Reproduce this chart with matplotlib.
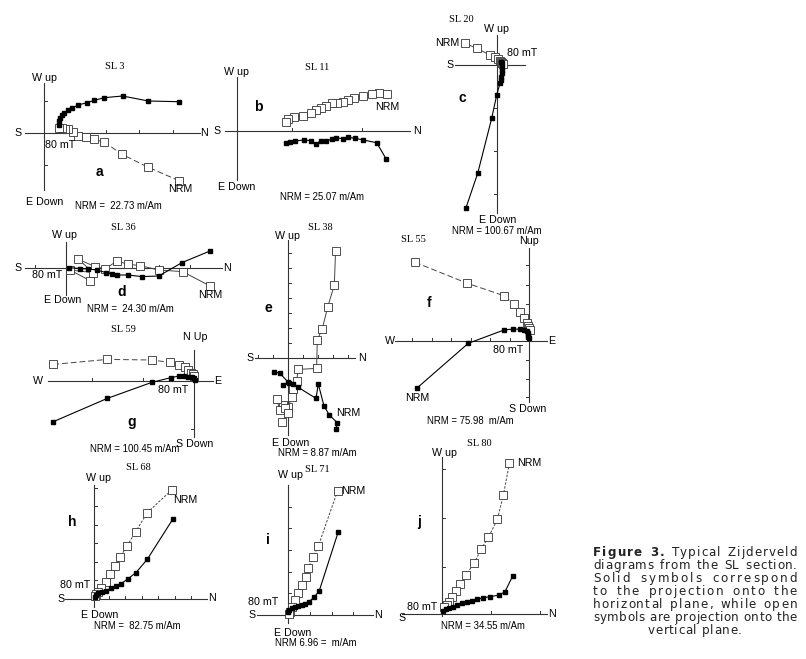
import matplotlib
matplotlib.use("Agg")
import matplotlib.pyplot as plt
from matplotlib import font_manager

W, H = 806, 659
SANS = "Liberation Sans"
SERIF = "Liberation Serif"

# SL 3 (a) - projections, arbitrary units
a_solid_x = [134.7, 104, 78.3, 59.7, 50, 42.3, 34, 27.7, 23.7, 19.7, 17.3, 15.7, 14.3, 14.3]
a_solid_y = [31, 31.7, 36.7, 35, 32.3, 30, 27.7, 24.7, 22.3, 19.3, 17.7, 15, 12, 8]
a_open_x = [134.7, 103.3, 78, 59.7, 49.7, 41.7, 34, 28.3, 23.7, 20.3, 17.3, 14.7]
a_open_y = [-48, -34.3, -21.7, -9.3, -6.7, -4.7, -3.3, 1, 3.3, 3.7, 4.3, 5]

# SL 11 (b)
b_solid_x = [149.3, 140, 126.7, 118.3, 111.7, 106, 99.3, 95, 89.3, 84, 79.3, 74, 67.3, 58.3, 53.3, 49.3]
b_solid_y = [-27.7, -11.7, -9, -7.3, -6.3, -7.7, -6.7, -8.3, -10, -9.7, -13, -9.7, -9, -10, -11.3, -12.3]
b_open_x = [150, 142.7, 135, 126.7, 117.3, 111.7, 106, 100, 95, 89.3, 84, 79.3, 74, 66, 57.3, 51.7, 49]
b_open_y = [36.7, 37.7, 36.7, 35, 33.3, 31, 29, 28.3, 27.7, 25, 22.7, 21, 18.3, 15, 14.3, 12, 9.3]

# SL 20 (c)
c_solid_x = [-30.7, -19, -5, 0, 3.3, 4, 4.7, 5, 5.3, 5.3, 5, 4.7]
c_solid_y = [-142.7, -108.3, -53.3, -30, -18.3, -15, -11.7, -8.3, -5, -1.7, 1.7, 3.5]
c_open_x = [-31.7, -20, -6.7, -1.7, 1.7, 3.3, 4.3, 5, 6]
c_open_y = [21.7, 16.7, 10, 7.7, 5.7, 4, 3, 2.3, 1]

# SL 36 (d)
d_solid_x = [144, 116, 92.7, 75.7, 62.3, 50.7, 45.7, 40, 30.7, 22.3, 14, 3.3]
d_solid_y = [17.3, 5.7, -7.7, -8.3, -6.7, -6.7, -6, -4.3, -1.7, -0.7, -0.3, 0.7]
d_open_x = [144, 116.7, 92.7, 74, 62.3, 50.7, 39.3, 29, 12.3, 27.3, 4, 24]
d_open_y = [-17.7, -3.3, -1.7, 2.7, 4, 7.3, -0.7, 1.7, 9, -4.3, -1.7, -12.3]

# SL 38 (e)
e_solid_x = [47.7, 49, 41, 35.7, 30, 27.7, 10, 4.3, 0, -5, 1, -8.3, -14]
e_solid_y = [-71.7, -65, -57.3, -48.3, -26.3, -40.7, -29.7, -26.3, -24, -27.7, -25.7, -15.7, -14]
e_open_x = [47.3, 46, 39.3, 34, 29, 28.3, 10, 8.3, 5, 3.3, 0, -5, -11.7, -8.3, -3.3, 0, -6.7]
e_open_y = [107, 72.7, 50.3, 29, 17.7, -10.7, -11.7, -23, -31.7, -39.7, -49, -47.3, -41.7, -52.3, -50.7, -55.7, -64]

# SL 55 (f)
f_solid_x = [-112.3, -60.7, -25, -15.7, -9, -5, -2.3, -1.3, -0.7, -0.7, 0]
f_solid_y = [-47.3, -2.3, 11, 12, 11.7, 11, 10, 7.7, 6, 3.7, 2.7]
f_open_x = [-114, -61.7, -25, -15, -9, -5, -2.3, -0.7, 0, 1]
f_open_y = [78.7, 57.7, 45.3, 36.7, 29.3, 23.3, 18.3, 15, 12.7, 11]

# SL 59 (g)
g_solid_x = [-140.7, -86.7, -42.3, -23.3, -14.7, -10, -5.7, -2.3, 0, 1]
g_solid_y = [-41, -17.7, -1.7, 3, 4.7, 4.7, 4, 3.3, 2.3, 0.7]
g_open_x = [-140.7, -86.7, -42.3, -24, -14.7, -9, -5.7, -3.3, -1.3, 0]
g_open_y = [16.3, 21.3, 20.7, 18.3, 15.7, 13.3, 10.7, 8, 6.3, 4.7]

# SL 68 (h)
h_solid_x = [78.7, 53.3, 42, 33.7, 26.7, 22, 16.7, 12, 7.7, 4.3, 2, 1]
h_solid_y = [80, 40, 26.7, 20.3, 15.3, 13.7, 11, 8.3, 7, 6, 4.3, 2.7]
h_open_x = [77.7, 53.3, 41.7, 33.3, 26, 21.3, 16, 11.7, 7, 4.3, 2, 1]
h_open_y = [109.3, 86.7, 67.7, 53.7, 42, 33.3, 25.3, 17.3, 11.7, 7.7, 5, 3.3]

# SL 71 (i)
i_solid_x = [50, 31, 25.7, 20.7, 16.7, 13.3, 10, 6.7, 3.3, 1, -0.7]
i_solid_y = [83.3, 24.3, 17.7, 13.3, 11, 10, 9, 8.3, 6.7, 5, 3.3]
i_open_x = [49.3, 30, 25, 20, 17.3, 13.3, 10, 6.7, 3.3, 1.7, 1]
i_open_y = [124.3, 69, 58.3, 46.7, 38.3, 30, 22.3, 15, 8.3, 3.3, 1]

# SL 80 (j)
j_solid_x = [71, 63.3, 57.7, 48.3, 41.7, 35.7, 30.7, 25, 20, 15, 11, 7.7, 4.3, 1.7]
j_solid_y = [38, 22.3, 19, 17.3, 16.3, 14.7, 13.3, 12.3, 10.7, 9, 7.3, 5.7, 4.7, 3.3]
j_open_x = [67.7, 61.7, 55.7, 46.7, 39.3, 32.7, 24.3, 18.3, 14.3, 10.7, 7.7, 5, 2.7]
j_open_y = [150.7, 119, 94.7, 76.7, 64.7, 51.3, 39, 29.7, 23.3, 17.3, 12.3, 9, 6.7]

fig = plt.figure(figsize=(W / 100, H / 100), dpi=100)

dashed = (0, (6, 3))
dotted = (0, (2.5, 1.5))

panels = [
    dict(o=(44.3, 132.7), sx=a_solid_x, sy=a_solid_y, ox=a_open_x, oy=a_open_y, ls=dashed,
         hx=(-19, 156), vy=(50, -57), xt=[28, 62, 95, 129], yt=[32, -32], xtd=1, ytd=1,
         labels=[("S", -26, 0), ("N", 160, 0), ("W up", 0, 55), ("E Down", 0, -69),
                 ("80 mT", 16, -12), ("NRM", 136, -56)],
         sl=("SL 3", 70, 66), let=("a", 55, -39), nrm=("NRM =  22.73 m/Am", 74, -73)),
    dict(o=(236.7, 131), sx=b_solid_x, sy=b_solid_y, ox=b_open_x, oy=b_open_y, ls="-",
         hx=(-12, 173), vy=(54, -49), xt=[55, 125], yt=[], xtd=1, ytd=1,
         labels=[("S", -20, 0), ("N", 180, 0), ("W up", 0, 59), ("E Down", 0, -56),
                 ("NRM", 151, 24)],
         sl=("SL 11", 80, 64), let=("b", 22, 24), nrm=("NRM = 25.07 m/Am", 85, -66)),
    dict(o=(496.7, 65), sx=c_solid_x, sy=c_solid_y, ox=c_open_x, oy=c_open_y, ls="-",
         hx=(-42, 28), vy=(30, -148), xt=[], yt=[-43, -86, -129], xtd=1, ytd=-1,
         labels=[("S", -47, 0), ("W up", 0, 36), ("E Down", 1, -155),
                 ("80 mT", 25, 12), ("NRM", -49, 22)],
         sl=("SL 20", -35, 45), let=("c", -34, -33), nrm=("NRM = 100.67 m/Am", 0, -166)),
    dict(o=(66, 268.3), sx=d_solid_x, sy=d_solid_y, ox=d_open_x, oy=d_open_y, ls="-",
         hx=(-41, 156), vy=(26, -27), xt=[-31, 31, 62, 93, 124], yt=[], xtd=1, ytd=1,
         labels=[("S", -48, 0), ("N", 161, 0), ("W up", -1, 33), ("E Down", -3, -32),
                 ("80 mT", -19, -7), ("NRM", 144, -27)],
         sl=("SL 36", 57, 41), let=("d", 56, -24), nrm=("NRM =  24.30 m/Am", 64, -41)),
    dict(o=(288.3, 357.7), sx=e_solid_x, sy=e_solid_y, ox=e_open_x, oy=e_open_y, ls="-",
         hx=(-33, 67), vy=(118, -77), xt=[-30, -15, 15, 30, 45, 60],
         yt=[15, 30, 45, 60, 75, 90, 105], xtd=1, ytd=1,
         labels=[("S", -38, 0), ("N", 74, 0), ("W up", -1, 122), ("E Down", 2, -85),
                 ("NRM", 60, -55)],
         sl=("SL 38", 32, 130), let=("e", -20, 50), nrm=("NRM = 8.87 m/Am", 29, -95)),
    dict(o=(529, 341), sx=f_solid_x, sy=f_solid_y, ox=f_open_x, oy=f_open_y, ls=dashed,
         hx=(-134, 18), vy=(93, -61), xt=[-117, -97.5, -78, -58.5, -39, -19.5],
         yt=[76, 56, 37.5, 19, -19, -37.5, -56], xtd=1, ytd=-1,
         labels=[("W", -139, 0), ("E", 23, 0), ("Nup", 0, 100), ("S Down", -1, -68),
                 ("80 mT", -21, -9), ("NRM", -112, -57)],
         sl=("SL 55", -116, 101), let=("f", -100, 38), nrm=("NRM = 75.98  m/Am", -59, -80)),
    dict(o=(194, 380.7), sx=g_solid_x, sy=g_solid_y, ox=g_open_x, oy=g_open_y, ls=dashed,
         hx=(-146, 19), vy=(31, -56), xt=[-102, -51], yt=[-48], xtd=1, ytd=-1,
         labels=[("W", -156, 0), ("E", 24, 0), ("N Up", 1, 44), ("S Down", 1, -63),
                 ("80 mT", -21, -9)],
         sl=("SL 59", -71, 51), let=("g", -62, -41), nrm=("NRM = 100.45 m/Am", -59, -68)),
    dict(o=(94, 599.3), sx=h_solid_x, sy=h_solid_y, ox=h_open_x, oy=h_open_y, ls=dotted,
         hx=(-29, 113), vy=(114, -8), xt=[14.5, 31, 47.5, 64, 80.5, 97],
         yt=[19, 37.5, 56, 74.5, 93, 111.5], xtd=1, ytd=1,
         labels=[("S", -33, 0), ("N", 118, 1), ("W up", 4, 121), ("E Down", 6, -16),
                 ("80 mT", -19, 14), ("NRM", 91, 99)],
         sl=("SL 68", 44, 132), let=("h", -22, 77), nrm=("NRM =  82.75 m/Am", 43, -27)),
    dict(o=(288.3, 615), sx=i_solid_x, sy=i_solid_y, ox=i_open_x, oy=i_open_y, ls=dotted,
         hx=(-31, 85), vy=(130, -8), xt=[21.7, 43.3, 65], yt=[21.7, 43.3, 65, 86.7, 108],
         xtd=1, ytd=1,
         labels=[("S", -36, 0), ("N", 90, 0), ("W up", 2, 140), ("E Down", 4, -18),
                 ("80 mT", -25, 13), ("NRM", 65, 124)],
         sl=("SL 71", 29, 145), let=("i", -20, 75), nrm=("NRM 6.96 =  m/Am", 27, -28)),
    dict(o=(441.7, 614), sx=j_solid_x, sy=j_solid_y, ox=j_open_x, oy=j_open_y, ls=dotted,
         hx=(-40, 105), vy=(157, -2), xt=[49, 98], yt=[47.5, 96, 145.5], xtd=1, ytd=1,
         labels=[("S", -40, -4), ("N", 110, 0), ("W up", 3, 161),
                 ("80 mT", -20, 7), ("NRM", 88, 151)],
         sl=("SL 80", 38, 171), let=("j", -23, 92), nrm=("NRM = 34.55 m/Am", 41, -12)),
]

for p in panels:
    px, py = p["o"]
    ax = fig.add_axes([0, 0, 1, 1])
    ax.set_xlim(-px, W - px)
    ax.set_ylim(py - H, py)
    ax.axis("off")

    # axes cross and ticks
    ax.plot(p["hx"], [0, 0], color="#333333", lw=0.8)
    ax.plot([0, 0], p["vy"], color="#333333", lw=0.8)
    for t in p["xt"]:
        ax.plot([t, t], [0, 3 * p["xtd"]], color="#333333", lw=0.7)
    for t in p["yt"]:
        ax.plot([0, 3 * p["ytd"]], [t, t], color="#333333", lw=0.7)

    # vertical projection (open) and horizontal projection (solid)
    ax.plot(p["ox"], p["oy"], ls=p["ls"], color="#444444", lw=0.7, marker="s",
            ms=5.2, mfc="white", mec="#333333", mew=0.6)
    ax.plot(p["sx"], p["sy"], ls="-", color="black", lw=0.8, marker="s",
            ms=3.4, mfc="black", mec="black")

    for txt, dx, dy in p["labels"]:
        ax.text(dx, dy, txt, fontsize=7.7, family=SANS, ha="center", va="center")
    txt, dx, dy = p["sl"]
    ax.text(dx, dy, txt, fontsize=7.5, family=SERIF, ha="center", va="center")
    txt, dx, dy = p["let"]
    ax.text(dx, dy, txt, fontsize=10, family=SANS, weight="bold", ha="center", va="center")
    txt, dx, dy = p["nrm"]
    ax.text(dx, dy, txt, fontsize=6.9, family=SANS, ha="center", va="center")

# caption: letter-spaced, justified between x0 and x1
CAP_SIZE = 8.6
caption = [
    [("Figure 3.", True), (" Typical Zijderveld", False)],
    [("diagrams from the SL section.", False)],
    [("Solid symbols correspond", False)],
    [("to the projection onto the", False)],
    [("horizontal plane, while open", False)],
    [("symbols are projection onto the", False)],
]
last_line = "vertical plane."
x0, x1 = 593, 797

renderer = fig.canvas.get_renderer()
props = {b: font_manager.FontProperties(family="DejaVu Sans", size=CAP_SIZE,
                                        weight="bold" if b else "normal")
         for b in (False, True)}


def glyphs(segments):
    # per-character advances, calibrated against the renderer's own width
    out = []
    for s, bold in segments:
        font = font_manager.get_font(font_manager.findfont(props[bold]))
        font.set_size(CAP_SIZE, 100)
        raw = [font.load_char(ord(c)).linearHoriAdvance for c in s]
        width = renderer.get_text_width_height_descent(s, props[bold], ismath=False)[0]
        scale = width / sum(raw)
        out += [(c, bold, r * scale) for c, r in zip(s, raw)]
    return out


def place(chars, start, extra, baseline):
    n_sp = sum(1 for c, _, _ in chars[:-1] if c == " ")
    n_lt = len(chars) - 1 - n_sp
    unit = extra / (n_lt + 2.5 * n_sp)
    x = start
    for c, bold, adv in chars:
        if c != " ":
            fig.text(x / W, 1 - baseline / H, c, fontproperties=props[bold],
                     ha="left", va="baseline", color="#222222")
        x += adv + unit * (2.5 if c == " " else 1)


for k, segs in enumerate(caption):
    chars = glyphs(segs)
    natural = sum(a for _, _, a in chars)
    place(chars, x0, (x1 - x0) - natural, 556 + 13 * k)

chars = glyphs([(last_line, False)])
track = 0.6 * (len(chars) - 1)
width = sum(a for _, _, a in chars) + track
place(chars, (x0 + x1) / 2 - width / 2, track, 556 + 13 * 6)

fig.savefig("out.png", dpi=100)
